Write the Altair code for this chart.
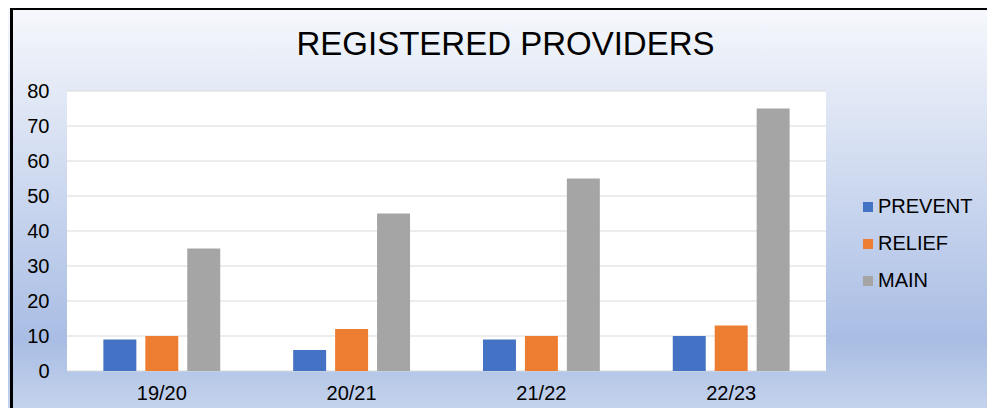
import altair as alt
import pandas as pd

title_text = "REGISTERED PROVIDERS"
categories = ["19/20", "20/21", "21/22", "22/23"]
series = ["PREVENT", "RELIEF", "MAIN"]
colors = ["#4472c4", "#ed7d31", "#a5a5a5"]
prevent = [9, 6, 9, 10]
relief = [10, 12, 10, 13]
main = [35, 45, 55, 75]
y_ticks = [0, 10, 20, 30, 40, 50, 60, 70, 80]

rows = []
for s, vals in zip(series, [prevent, relief, main]):
    for c, v in zip(categories, vals):
        rows.append({"year": c, "series": s, "value": v})
df = pd.DataFrame(rows)

W, H = 759, 280
PL, PT, PR, PB = 59, 83, 161, 37
FONT = "Liberation Sans"

one = alt.Data(values=[{"a": 1}])

gradient = {
    "gradient": "linear",
    "x1": 0, "y1": 0, "x2": 0, "y2": 1,
    "stops": [
        {"offset": 0, "color": "#f6f8fc"},
        {"offset": 0.83, "color": "#a9bde4"},
        {"offset": 1, "color": "#c4d3ec"},
    ],
}

bg = alt.Chart(one).mark_rect(fill=gradient).encode(
    x=alt.value(-PL), x2=alt.value(W + PR), y=alt.value(-PT), y2=alt.value(H + PB)
)
plot_bg = alt.Chart(one).mark_rect(fill="white").encode(
    x=alt.value(0), x2=alt.value(W), y=alt.value(0), y2=alt.value(H)
)

yscale = alt.Scale(domain=[0, 80], nice=False)
y_axis = alt.Axis(title=None, values=y_ticks, grid=False, ticks=False, domain=False,
                  labelFontSize=20, labelFont=FONT, labelColor="black",
                  labelPadding=18, zindex=1)

grid = alt.Chart(pd.DataFrame({"value": y_ticks})).mark_rule(color="#d9d9d9", strokeWidth=1).encode(
    y=alt.Y("value:Q", scale=yscale, axis=y_axis)
)

bars = alt.Chart(df).mark_bar().encode(
    x=alt.X("year:N", sort=categories,
            scale=alt.Scale(paddingInner=0.337, paddingOuter=0.168),
            axis=alt.Axis(title=None, labelAngle=0, labelFontSize=20, labelFont=FONT,
                          labelColor="black", ticks=False, domain=False,
                          labelPadding=12, zindex=1)),
    xOffset=alt.XOffset("series:N", sort=series,
                        scale=alt.Scale(paddingInner=0.214, paddingOuter=0.107)),
    y=alt.Y("value:Q", scale=yscale, axis=y_axis),
    color=alt.Color("series:N", scale=alt.Scale(domain=series, range=colors),
                    legend=alt.Legend(title=None, orient="none", legendX=791, legendY=106,
                                      symbolType="square", symbolSize=100,
                                      labelFontSize=20, labelFont=FONT, labelColor="black",
                                      rowPadding=17, labelOffset=0, symbolStrokeWidth=0)),
)

title = alt.Chart(one).mark_text(
    text=title_text, fontSize=33, font=FONT, align="center", baseline="alphabetic", color="black"
).encode(x=alt.value(438.5), y=alt.value(-36))

left_border = alt.Chart(one).mark_rect(fill="black").encode(
    x=alt.value(-57), x2=alt.value(-54), y=alt.value(-PT), y2=alt.value(H + PB)
)
top_border = alt.Chart(one).mark_rect(fill="black").encode(
    x=alt.value(-57), x2=alt.value(W + PR), y=alt.value(-PT), y2=alt.value(-PT + 2)
)

chart = alt.layer(bg, plot_bg, grid, bars, title, left_border, top_border).properties(
    width=W, height=H,
    padding={"left": PL, "top": PT, "right": PR, "bottom": PB},
    autosize=alt.AutoSizeParams(type="none"),
).configure_view(stroke=None)

chart.save("out.html", embed_options={"renderer": "svg", "actions": False})
